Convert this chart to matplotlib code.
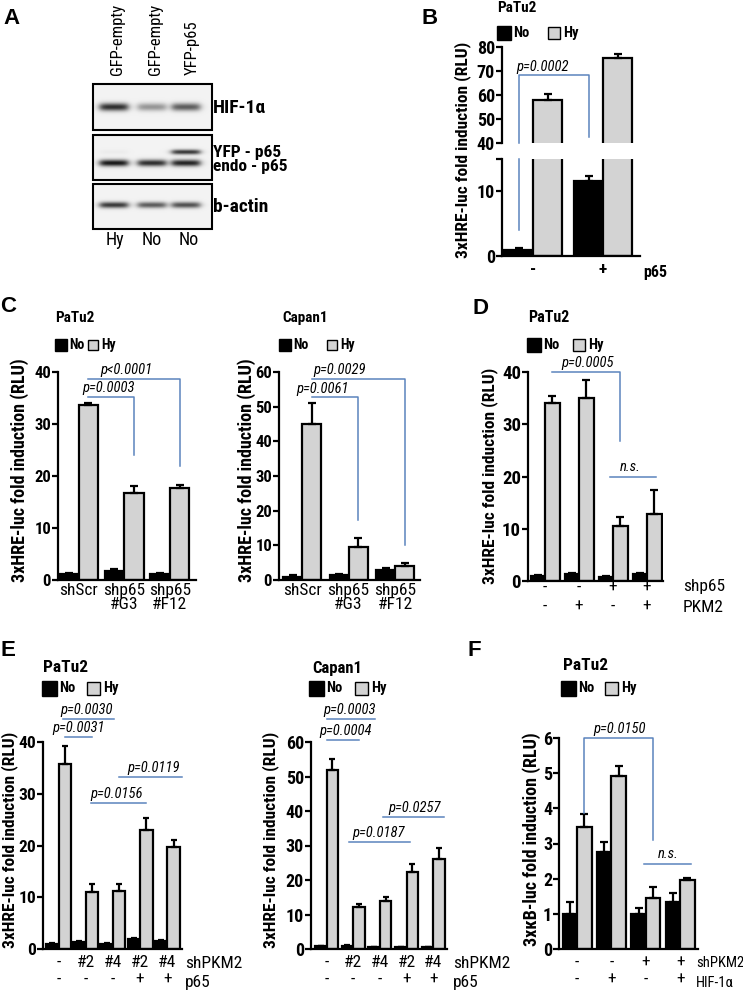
import numpy as np
import matplotlib
matplotlib.use('Agg')
import matplotlib.pyplot as plt
from matplotlib.patches import Rectangle

W, H = 743, 992
plt.rcParams['font.family'] = ['Roboto Condensed', 'Liberation Sans', 'DejaVu Sans']

NO_COL = 'black'
HY_COL = '#d3d3d3'
BR_COL = '#5b84bd'

# Data
# ----
# A: western blot, band strength per lane
blot_lanes = ['GFP-empty', 'GFP-empty', 'YFP-p65']
blot_cond = ['Hy', 'No', 'No']
hif_band = [0.85, 0.40, 0.65]
yfp_p65_band = [0.03, 0.0, 0.80]
endo_p65_band = [0.95, 0.85, 0.90]
actin_band = [0.80, 0.65, 0.70]

# B
b_labels = ['-', '+']
b_no = [1.0, 11.5]
b_no_err = [0.2, 0.8]
b_hy = [58.0, 75.5]
b_hy_err = [2.5, 1.5]

# C PaTu2 / Capan1
c_labels = ['shScr', 'shp65\n#G3', 'shp65\n#F12']
c1_no = [1.2, 1.8, 1.2]
c1_no_err = [0.2, 0.3, 0.1]
c1_hy = [33.6, 16.7, 17.6]
c1_hy_err = [0.4, 1.3, 0.7]
c2_no = [1.0, 1.5, 2.8]
c2_no_err = [0.3, 0.3, 0.8]
c2_hy = [45.0, 9.5, 4.0]
c2_hy_err = [6.0, 2.5, 1.0]

# D
d_labels = ['-\n-', '-\n+', '+\n-', '+\n+']
d_no = [1.0, 1.4, 0.8, 1.3]
d_no_err = [0.2, 0.2, 0.1, 0.2]
d_hy = [34.0, 35.0, 10.5, 12.8]
d_hy_err = [1.5, 3.5, 1.7, 4.7]

# E PaTu2 / Capan1
e_labels = ['-\n-', '#2\n-', '#4\n-', '#2\n+', '#4\n+']
e1_no = [1.0, 1.3, 1.0, 1.9, 1.5]
e1_no_err = [0.1, 0.2, 0.1, 0.3, 0.2]
e1_hy = [35.7, 11.1, 11.2, 22.9, 19.8]
e1_hy_err = [3.5, 1.4, 1.4, 2.5, 1.3]
e2_no = [0.8, 1.0, 0.6, 0.5, 0.5]
e2_no_err = [0.1, 0.1, 0.1, 0.1, 0.1]
e2_hy = [51.8, 12.2, 13.8, 22.2, 26.0]
e2_hy_err = [3.2, 0.7, 1.2, 2.3, 3.2]

# F
f_labels = ['-\n-', '-\n+', '+\n-', '+\n+']
f_no = [1.0, 2.75, 1.0, 1.33]
f_no_err = [0.35, 0.3, 0.18, 0.25]
f_hy = [3.47, 4.92, 1.45, 1.95]
f_hy_err = [0.38, 0.27, 0.3, 0.08]

# Figure and pixel canvas
# -----------------------
fig = plt.figure(figsize=(W / 100, H / 100), dpi=100)
canvas = fig.add_axes([0, 0, 1, 1])
canvas.set_xlim(0, W)
canvas.set_ylim(H, 0)
canvas.axis('off')

XLAB_FS = 12.5
P_FS = 10.5


def make_ax(x_left, x_right, y_top, y_bot, ylo, yhi, c0, sp, fs):
    ax = fig.add_axes([x_left / W, 1 - y_bot / H, (x_right - x_left) / W, (y_bot - y_top) / H])
    ax.set_ylim(ylo, yhi)
    ax.set_xlim((x_left - c0) / sp, (x_right - c0) / sp)
    ax.patch.set_alpha(0)
    for s in ['top', 'right']:
        ax.spines[s].set_visible(False)
    for s in ['left', 'bottom']:
        ax.spines[s].set_linewidth(1.6)
    ax.tick_params(axis='y', length=4, width=1.6, labelsize=fs, pad=1)
    ax.tick_params(axis='x', length=0, labelsize=XLAB_FS)
    return ax


def draw_bars(ax, no, no_err, hy, hy_err, bw, cap):
    x = np.arange(len(no))
    ax.bar(x - bw / 2, no, bw, color=NO_COL, edgecolor='k', linewidth=1.6, zorder=2)
    ax.bar(x + bw / 2, hy, bw, color=HY_COL, edgecolor='k', linewidth=1.6, zorder=2)
    ax.errorbar(x - bw / 2, no, yerr=[np.zeros(len(no)), no_err], fmt='none', ecolor='k',
                elinewidth=1.6, capsize=cap, capthick=1.6, zorder=3)
    ax.errorbar(x + bw / 2, hy, yerr=[np.zeros(len(hy)), hy_err], fmt='none', ecolor='k',
                elinewidth=1.6, capsize=cap, capthick=1.6, zorder=3)


def bracket(ax, xs, ys, text=None, tx=None, ty=None):
    ax.plot(xs, ys, color=BR_COL, lw=1.1, clip_on=False, zorder=4)
    if text is not None:
        ax.text(tx, ty, text, ha='center', va='bottom', style='italic', fontsize=P_FS, clip_on=False)


def legend(xb, xg, y, s, fs=10.5):
    canvas.add_patch(Rectangle((xb, y - s / 2), s, s, fc='k', ec='k', lw=1))
    canvas.text(xb + s + 2, y, 'No', va='center', ha='left', fontsize=fs, fontweight='bold')
    canvas.add_patch(Rectangle((xg, y - s / 2 + 1), s - 2, s - 2, fc=HY_COL, ec='k', lw=1))
    canvas.text(xg + s + 1, y, 'Hy', va='center', ha='left', fontsize=fs, fontweight='bold')


def title(x, y, txt, fs):
    canvas.text(x, y, txt, ha='left', va='center', fontsize=fs, fontweight='bold')


def ylab(x, y, txt, fs):
    canvas.text(x, y, txt, ha='center', va='center', rotation=90, fontsize=fs, fontweight='bold')


def row_name(x, y, txt, fs=XLAB_FS):
    canvas.text(x, y, txt, ha='left', va='center', fontsize=fs)


def letter(x, y, txt):
    canvas.text(x, y, txt, ha='center', va='center', fontsize=16, fontweight='bold',
                family=['Liberation Sans', 'DejaVu Sans'])


# Panel A: blot
# -------------
lane_x = [114, 152, 186]
bx0, bx1 = 93, 212


def blot_box(y0, y1, rows):
    ys = np.arange(y0, y1) + 0.5
    xs = np.arange(bx0, bx1) + 0.5
    img = np.zeros((len(ys), len(xs)))
    for by, vals, sig in rows:
        for cx, v in zip(lane_x, vals):
            px = 1 / (1 + np.exp(-(xs - (cx - 14)) / 2.0)) / (1 + np.exp((xs - (cx + 14)) / 2.0))
            py = np.exp(-0.5 * ((ys - by) / sig) ** 2)
            img += v * np.outer(py, px)
    img = 0.95 - 0.9 * np.clip(img, 0, 1)
    canvas.imshow(img, cmap='gray', vmin=0, vmax=1, extent=(bx0, bx1, y1, y0),
                  aspect='auto', interpolation='bilinear', zorder=1)
    canvas.add_patch(Rectangle((bx0, y0), bx1 - bx0, y1 - y0, fill=False, ec='k', lw=1.5, zorder=2))


blot_box(84, 130, [(107, hif_band, 2.8)])
blot_box(135, 180, [(152, yfp_p65_band, 1.8), (163, endo_p65_band, 2.4)])
blot_box(184, 229, [(205, actin_band, 2.2)])
canvas.set_xlim(0, W)
canvas.set_ylim(H, 0)

for lx, lab, cond in zip([118, 155, 192], blot_lanes, blot_cond):
    canvas.text(lx, 75, lab, rotation=90, ha='center', va='bottom', fontsize=12)
    canvas.text(lx - 3, 240, cond, ha='center', va='center', fontsize=13)
canvas.text(213, 108, 'HIF-1α', ha='left', va='center', fontsize=14, fontweight='bold')
canvas.text(213, 152, 'YFP - p65', ha='left', va='center', fontsize=12.5, fontweight='bold')
canvas.text(213, 167, 'endo - p65', ha='left', va='center', fontsize=12.5, fontweight='bold')
canvas.text(213, 207, 'b-actin', ha='left', va='center', fontsize=14, fontweight='bold')
letter(11, 18, 'A')

# Panel B: broken axis
# --------------------
bw = 29 / 70
axb_lo = make_ax(502, 640, 158.5, 256, 0, 15, 533, 70, 13)
axb_hi = make_ax(502, 640, 47, 143, 40, 80, 533, 70, 13)
axb_hi.spines['bottom'].set_visible(False)
axb_lo.set_yticks([0, 10, 15], ['0', '10', ''])
axb_hi.set_yticks([40, 50, 60, 70, 80])
for ax in (axb_lo, axb_hi):
    draw_bars(ax, b_no, b_no_err, b_hy, b_hy_err, bw, 3)
axb_hi.set_xticks([])
axb_lo.set_xticks([0, 1], b_labels, fontweight='bold')
axb_lo.tick_params(axis='x', pad=4)
bracket(axb_lo, [-bw / 2, -bw / 2], [4, 15])
bracket(axb_hi, [-bw / 2, -bw / 2, 1 - bw / 2, 1 - bw / 2], [40, 68.3, 68.3, 42.5],
        'p=0.0002', 0.14, 68.8)
canvas.text(643, 272, 'p65', ha='left', va='center', fontsize=11.5, fontweight='bold')
ylab(463, 150, '3xHRE-luc fold induction (RLU)', 12.5)
title(497, 8, 'PaTu2', 11)
legend(497, 548, 33, 14)
letter(430, 19, 'B')

# Panel C
# -------
sp = 45.7
bw = 19.5 / sp
axc1 = make_ax(58, 196, 372, 580, 0, 40, 78.5, sp, 12)
axc1.set_yticks([0, 10, 20, 30, 40])
draw_bars(axc1, c1_no, c1_no_err, c1_hy, c1_hy_err, bw, 3)
axc1.set_xticks(range(3), c_labels, linespacing=0.95)
axc1.tick_params(axis='x', pad=2)
h = bw / 2
bracket(axc1, [h, 1 + h, 1 + h], [35.2, 35.2, 24], 'p=0.0003', 0.65, 35.5)
bracket(axc1, [h, 2 + h, 2 + h], [38.6, 38.6, 22], 'p<0.0001', 1.05, 39.0)
ylab(20, 470, '3xHRE-luc fold induction (RLU)', 13)
title(55, 318, 'PaTu2', 11)
legend(55, 88, 345, 12, 10)
letter(8, 306, 'C')

sp = 46.5
bw = 19 / sp
axc2 = make_ax(279, 420, 372, 580, 0, 60, 302, sp, 12)
axc2.set_yticks([0, 10, 20, 30, 40, 50, 60])
draw_bars(axc2, c2_no, c2_no_err, c2_hy, c2_hy_err, bw, 3)
axc2.set_xticks(range(3), c_labels, linespacing=0.95)
axc2.tick_params(axis='x', pad=2)
h = bw / 2
bracket(axc2, [h, 1 + h, 1 + h], [52.7, 52.7, 17.3], 'p=0.0061', 0.45, 53.2)
bracket(axc2, [h, 2 + h, 2 + h], [58, 58, 10], 'p=0.0029', 0.8, 58.6)
ylab(247, 470, '3xHRE-luc fold induction (RLU)', 13)
title(282, 318, 'Capan1', 11)
legend(279, 327, 345, 12, 10)

# Panel D
# -------
sp = 34
bw = 14.5 / sp
axd = make_ax(528, 663, 372, 581, 0, 40, 545, sp, 13.5)
axd.set_yticks([0, 10, 20, 30, 40])
draw_bars(axd, d_no, d_no_err, d_hy, d_hy_err, bw, 3)
axd.set_xticks(range(4), d_labels, linespacing=1.35)
axd.tick_params(axis='x', pad=-1)
h = bw / 2
bracket(axd, [h, 2 + h, 2 + h], [40, 40, 26.7], 'p=0.0005', 1.25, 40.4)
bracket(axd, [1.9, 3.25], [20, 20], 'n.s.', 2.5, 20.4)
row_name(683, 587, 'shp65')
row_name(683, 607, 'PKM2')
ylab(490, 476, '3xHRE-luc fold induction (RLU)', 12.5)
title(528, 318, 'PaTu2', 11.5)
legend(527, 573, 345, 14)
letter(480, 308, 'D')

# Panel E
# -------
sp = 27.2
bw = 12.5 / sp
axe1 = make_ax(43, 182, 742, 949, 0, 40, 58.5, sp, 12.5)
axe1.set_yticks([0, 10, 20, 30, 40])
draw_bars(axe1, e1_no, e1_no_err, e1_hy, e1_hy_err, bw, 2.5)
axe1.set_xticks(range(5), e_labels, linespacing=1.15)
axe1.tick_params(axis='x', pad=4)
h = bw / 2
bracket(axe1, [h, 1 + h], [40.9, 40.9], 'p=0.0031', 0.75, 41.3)
bracket(axe1, [h - 0.05, 2.05], [44.4, 44.4], 'p=0.0030', 1.05, 44.8)
bracket(axe1, [1 + h - 0.05, 3 + h], [28.2, 28.2], 'p=0.0156', 2.15, 28.6)
bracket(axe1, [2 + h, 4 + h + 0.3], [33.2, 33.2], 'p=0.0119', 3.5, 33.6)
row_name(185, 963, 'shPKM2')
row_name(185, 983, 'p65')
ylab(10, 840, '3xHRE-luc fold induction (RLU)', 12.5)
title(43, 667, 'PaTu2', 12.5)
legend(42, 87, 688, 15)
letter(8, 650, 'E')

sp = 26.7
bw = 11.5 / sp
axe2 = make_ax(311, 447, 742, 949, 0, 60, 326.5, sp, 13)
axe2.set_yticks([0, 10, 20, 30, 40, 50, 60])
draw_bars(axe2, e2_no, e2_no_err, e2_hy, e2_hy_err, bw, 2.5)
axe2.set_xticks(range(5), e_labels, linespacing=1.15)
axe2.tick_params(axis='x', pad=4)
h = bw / 2
bracket(axe2, [h - 0.2, 1 + h], [60.6, 60.6], 'p=0.0004', 0.7, 61.2)
bracket(axe2, [h - 0.2, 2 - 0.2], [66.7, 66.7], 'p=0.0003', 0.85, 67.3)
bracket(axe2, [1 - 0.15, 3 + h - 0.1], [31, 31], 'p=0.0187', 1.95, 31.6)
bracket(axe2, [2 + 0.1, 4 + h + 0.2], [38.3, 38.3], 'p=0.0257', 3.3, 38.9)
row_name(453, 963, 'shPKM2')
row_name(453, 983, 'p65')
ylab(271, 840, '3xHRE-luc fold induction (RLU)', 12.5)
title(312, 668, 'Capan1', 12)
legend(309, 355, 688, 15)

# Panel F
# -------
sp = 34.4
bw = 14.5 / sp
axf = make_ax(559, 698, 738, 949, 0, 6, 577, sp, 13)
axf.set_yticks([0, 1, 2, 3, 4, 5, 6])
draw_bars(axf, f_no, f_no_err, f_hy, f_hy_err, bw, 3)
axf.set_xticks(range(4), f_labels, linespacing=1.15)
axf.tick_params(axis='x', pad=4)
h = bw / 2
bracket(axf, [h, h, 2 + h, 2 + h], [3.87, 6.0, 6.0, 3.1], 'p=0.0150', 1.25, 6.05)
bracket(axf, [1.95, 3.3], [2.42, 2.42], 'n.s.', 2.65, 2.5)
row_name(696, 963, 'shPKM2', 10.5)
row_name(696, 983, 'HIF-1α', 10.5)
ylab(532, 839, '3xκB-luc fold induction (RLU)', 13)
title(563, 665, 'PaTu2', 12.5)
legend(561, 605, 688, 15)
letter(474, 650, 'F')

for ax in (axb_lo, axb_hi, axc1, axc2, axd, axe1, axe2, axf):
    for t in ax.get_yticklabels():
        t.set_fontweight('bold')

fig.savefig('out.png', dpi=100, facecolor='w')
